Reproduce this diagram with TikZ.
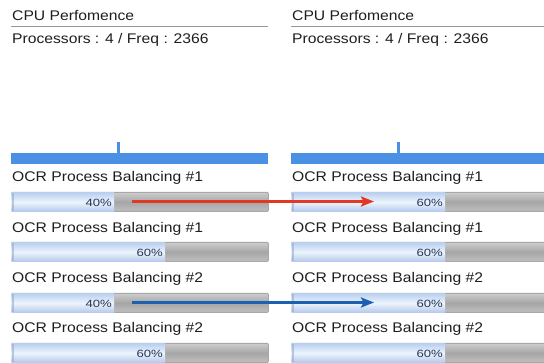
\documentclass[tikz,border=0pt]{standalone}
\usepackage{fontspec}
\setmainfont{Liberation Sans}[FakeStretch=1.12]
\newfontfamily\pctfont{Liberation Sans}[FakeStretch=1.25]
\usetikzlibrary{arrows.meta,calc}

\definecolor{graphblue}{RGB}{74,144,228}
\definecolor{rulegray}{RGB}{150,150,150}
\definecolor{labelink}{RGB}{30,30,30}
\definecolor{pctink}{RGB}{40,52,85}
\definecolor{arrowred}{RGB}{226,56,36}
\definecolor{arrowblue}{RGB}{30,96,176}
\definecolor{barborder}{RGB}{168,168,168}
\definecolor{bartop}{RGB}{204,204,204}
\definecolor{barmid}{RGB}{166,166,166}
\definecolor{barbot}{RGB}{192,192,192}
\definecolor{filltop}{RGB}{186,208,240}
\definecolor{fillmid}{RGB}{236,244,253}
\definecolor{fillbot}{RGB}{178,200,234}
\definecolor{filledge}{RGB}{150,170,200}

\tikzset{
  title/.style={anchor=base west, inner sep=0pt, text=labelink, font=\fontsize{14}{16}\selectfont},
  rowlabel/.style={anchor=base west, inner sep=0pt, text=labelink, font=\fontsize{14}{16}\selectfont},
  barbox/.style={anchor=north west, minimum width=257pt, minimum height=19pt, inner sep=0pt,
    draw=barborder, line width=0.8pt, rounded corners=1pt,
    top color=bartop, bottom color=barbot, middle color=barmid},
  barfill/.style={top color=filltop, bottom color=fillbot, middle color=fillmid},
  pct/.style={anchor=east, inner sep=0pt, text=pctink, font=\pctfont\fontsize{10.5}{12}\selectfont},
  graphbar/.style={fill=graphblue, draw=none},
  moveline/.style={line width=2.6pt, -{Stealth[length=13pt,width=10pt,inset=2.5pt]}},
}

% progress bar: name, left x, top y, filled width, percent text
\newcommand{\progbar}[5]{%
  \node[barbox] (#1) at (#2,#3) {};
  \shade[barfill] ([xshift=0.6pt,yshift=-0.6pt]#1.north west) rectangle ([xshift=#4pt]#1.south west);
  \fill[filledge, opacity=0.6]
    ([xshift=0.6pt,yshift=-0.6pt]#1.north west) rectangle ([xshift=3pt,yshift=0.6pt]#1.south west);
  \node[pct] (#1t) at ([xshift=#4pt-2pt,yshift=-0.5pt]#1.west) {#5};
}

% one monitor panel: prefix, left x, filled width of rows 1 and 3, their percent
\newcommand{\panel}[4]{%
  \node[title] (#1title) at (#2+1,21) {CPU Perfomence};
  \draw[rulegray, line width=1pt] (#2,26.5) -- (#2+257,26.5);
  \node[title] (#1proc) at (#2+1,44) {Processors : 4 / Freq : 2366};
  \node[graphbar, anchor=north west, minimum width=257pt, minimum height=11pt, inner sep=0pt] (#1graph) at (#2,153) {};
  \fill[graphblue] (#2+106,142) rectangle (#2+108.5,153);
  \node[rowlabel] (#1l1) at (#2+1,182) {OCR Process Balancing \#1};
  \progbar{#1b1}{#2}{192}{#3}{#4}
  \node[rowlabel] (#1l2) at (#2+1,233) {OCR Process Balancing \#1};
  \progbar{#1b2}{#2}{242}{154}{60\%}
  \node[rowlabel] (#1l3) at (#2+1,283) {OCR Process Balancing \#2};
  \progbar{#1b3}{#2}{293}{#3}{#4}
  \node[rowlabel] (#1l4) at (#2+1,333) {OCR Process Balancing \#2};
  \progbar{#1b4}{#2}{343}{154}{60\%}
}

\begin{document}
\begin{tikzpicture}[x=1pt,y=-1pt]
  \useasboundingbox (0,0) rectangle (544,363);
  \clip (0,0) rectangle (544,363);
  \fill[white] (0,0) rectangle (544,363);

  \panel{L}{11}{103}{40\%}
  \panel{R}{291}{154}{60\%}

  % load moved between the two snapshots
  \coordinate (redstart) at (132,201.5);
  \coordinate (redend) at (374,201.5);
  \coordinate (bluestart) at (132,302.5);
  \coordinate (blueend) at (374,302.5);
  \draw[moveline, arrowred] (redstart) -- (redend);
  \draw[moveline, arrowblue] (bluestart) -- (blueend);
\end{tikzpicture}
\end{document}
